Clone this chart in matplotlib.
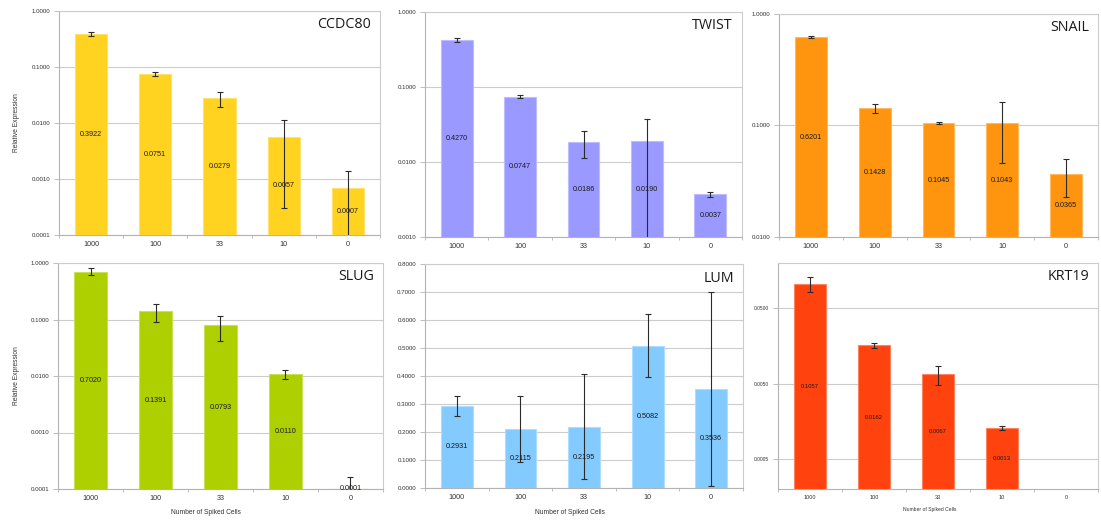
import numpy as np
import matplotlib
matplotlib.use("Agg")
import matplotlib.pyplot as plt
from matplotlib.ticker import FixedLocator, NullLocator, FuncFormatter

# Spiked-cell dilution series (x categories)
categories = ["1000", "100", "33", "10", "0"]

# Relative expression per gene (mean and error)
ccdc80_values = [0.3922, 0.0751, 0.0279, 0.0057, 0.0007]
ccdc80_errors = [0.035, 0.005, 0.0085, 0.0054, 0.0007]

twist_values = [0.4270, 0.0747, 0.0186, 0.0190, 0.0037]
twist_errors = [0.028, 0.003, 0.0074, 0.019, 0.00025]

snail_values = [0.6201, 0.1428, 0.1045, 0.1043, 0.0365]
snail_errors = [0.015, 0.0145, 0.002, 0.058, 0.0135]

slug_values = [0.7020, 0.1391, 0.0793, 0.0110, 0.0001]
slug_errors = [0.10, 0.05, 0.037, 0.002, 0.00006]

lum_values = [0.2931, 0.2115, 0.2195, 0.5082, 0.3536]
lum_errors = [0.0345, 0.1176, 0.1885, 0.113, 0.347]

krt19_values = [0.1057, 0.0162, 0.0067, 0.0013, 0.0]
krt19_errors = [0.0245, 0.0013, 0.0019, 0.00007, 0.0]

# Axis tick values
decade_ticks_4 = [0.0001, 0.001, 0.01, 0.1, 1.0]
decade_ticks_3 = [0.001, 0.01, 0.1, 1.0]
decade_ticks_2 = [0.01, 0.1, 1.0]
lum_ticks = [0.0, 0.1, 0.2, 0.3, 0.4, 0.5, 0.6, 0.7, 0.8]
krt19_ticks = [0.0005, 0.005, 0.05]

W, H = 1101, 520
fig = plt.figure(figsize=(W / 100, H / 100), dpi=100)
fig.patch.set_facecolor("white")

GRID = "#cccccc"
SPINE = "#b3b3b3"
TEXT = "#333333"

panels = [
    # name, values, errors, colour, scale, ylim, ticks, (left, top, right, bottom) px, small, ylabel, xlabel
    ("CCDC80", ccdc80_values, ccdc80_errors, "#ffd320", "log", (0.0001, 1.0), decade_ticks_4,
     (59, 11, 380, 235), False, True, False),
    ("TWIST", twist_values, twist_errors, "#9999ff", "log", (0.001, 1.0), decade_ticks_3,
     (425, 12, 742, 237), False, False, False),
    ("SNAIL", snail_values, snail_errors, "#ff950e", "log", (0.01, 1.0), decade_ticks_2,
     (779, 14, 1098, 237), False, False, False),
    ("SLUG", slug_values, slug_errors, "#aecf00", "log", (0.0001, 1.0), decade_ticks_4,
     (58, 263, 383, 489), False, True, True),
    ("LUM", lum_values, lum_errors, "#83caff", "linear", (0.0, 0.8), lum_ticks,
     (425, 264, 743, 488), False, False, True),
    ("KRT19", krt19_values, krt19_errors, "#ff420e", "log", (0.0002, 0.2), krt19_ticks,
     (778, 263, 1098, 489), True, False, True),
]


def lighten(hex_colour, amount=0.35):
    rgb = np.array(matplotlib.colors.to_rgb(hex_colour))
    return tuple(rgb + (1 - rgb) * amount)


for (name, values, errors, colour, scale, ylim, ticks, rect, small,
     show_ylabel, show_xlabel) in panels:
    left, top, right, bottom = rect
    ax = fig.add_axes([left / W, 1 - bottom / H, (right - left) / W, (bottom - top) / H])
    ax.set_yscale(scale)
    ymin, ymax = ylim
    x = np.arange(len(categories))
    vals = np.array(values, dtype=float)
    errs = np.array(errors, dtype=float)

    fs_ytick = 3.5 if small else 4.4
    fs_xtick = 4.1 if small else 5.2
    fs_val = 4.2 if small else 5.2
    fs_xlab = 3.6 if small else 4.8

    ax.set_axisbelow(True)
    shown = vals > 0
    base = ymin if scale == "log" else 0.0
    ax.bar(x[shown], np.maximum(vals[shown] - base, 0), bottom=base, width=0.5,
           color=colour, edgecolor=lighten(colour), linewidth=0.8, zorder=2.6)

    # error bars (lower ends that fall below the axis are clipped away)
    lo = np.where(vals - errs > 0, vals - errs, 1e-12 if scale == "log" else vals - errs)
    ax.errorbar(x[shown], vals[shown],
                yerr=[(vals - lo)[shown], errs[shown]],
                fmt="none", ecolor="#2b2b2b", elinewidth=0.8, capsize=2.2,
                capthick=0.8, zorder=3)

    # value labels centred in each bar
    for xi, v in zip(x, vals):
        if v <= 0:
            continue
        ypos = np.sqrt(v * ymin) if scale == "log" else v / 2
        ax.text(xi, ypos, f"{v:.4f}", ha="center", va="center", fontsize=fs_val,
                color="#1a1a1a", family="Liberation Sans", zorder=4)

    ax.set_xlim(-0.5, len(categories) - 0.5)
    ax.set_ylim(ymin, ymax)
    ax.yaxis.set_major_locator(FixedLocator(ticks))
    ax.yaxis.set_minor_locator(NullLocator())
    ax.yaxis.set_major_formatter(FuncFormatter(lambda v, p: f"{v:.4f}"))
    ax.grid(axis="y", color=GRID, linewidth=0.8)
    ax.tick_params(axis="y", length=3.5, width=0.6, color=SPINE, pad=3,
                   labelsize=fs_ytick, labelcolor=TEXT)
    for lab in ax.get_yticklabels():
        lab.set_family("Liberation Sans")

    # category labels centred, tick marks on category boundaries
    ax.xaxis.set_major_locator(FixedLocator(np.arange(len(categories) + 1) - 0.5))
    ax.xaxis.set_major_formatter(FuncFormatter(lambda v, p: ""))
    ax.xaxis.set_minor_locator(FixedLocator(x))
    ax.xaxis.set_minor_formatter(FuncFormatter(lambda v, p: categories[int(round(v))]))
    ax.tick_params(axis="x", which="major", length=2.4, width=0.6, color=SPINE)
    ax.tick_params(axis="x", which="minor", length=0, pad=4.5, labelsize=fs_xtick,
                   labelcolor=TEXT)
    for lab in ax.get_xticklabels(minor=True):
        lab.set_family("Liberation Sans")

    for side, sp in ax.spines.items():
        sp.set_color(SPINE if side in ("left", "bottom") else GRID)
        sp.set_linewidth(0.8)
        sp.set_zorder(2.5)

    width_px = right - left
    height_px = bottom - top
    ax.text(1 - 9 / width_px, 1 - 17.5 / height_px, name, transform=ax.transAxes,
            ha="right", va="baseline", fontsize=10.3, family="Open Sans", color="#1a1a1a")

    if show_ylabel:
        ax.set_ylabel("Relative Expression", fontsize=4.8, family="Liberation Sans",
                      color=TEXT)
        ax.yaxis.set_label_coords((20 - left) / width_px, 0.5)
    if show_xlabel:
        ax.set_xlabel("Number of Spiked Cells", fontsize=fs_xlab,
                      family="Liberation Sans", color=TEXT)
        label_x = {False: left + 0.455 * width_px, True: left + 0.475 * width_px}[small]
        label_y = 509 if small else 513
        ax.xaxis.set_label_coords((label_x - left) / width_px, -(label_y - bottom) / height_px)
        ax.xaxis.label.set_va("center")

fig.savefig("out.png", dpi=100, facecolor="white")
